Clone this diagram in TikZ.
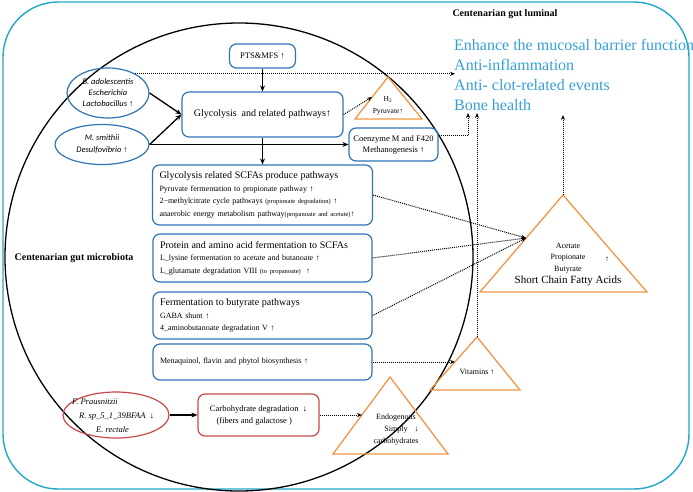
\documentclass[tikz,border=0pt]{standalone}
\usepackage{fontspec}
\setmainfont{Liberation Serif}
\newfontfamily\calfont{Carlito}
\usetikzlibrary{shapes.geometric,arrows.meta}

\definecolor{lumcyan}{RGB}{31,168,200}
\definecolor{benblue}{RGB}{52,160,214}
\definecolor{boxblue}{RGB}{46,117,182}
\definecolor{boxred}{RGB}{200,72,72}
\definecolor{triorange}{RGB}{240,150,70}

\begin{document}
\begin{tikzpicture}[x=1pt,y=-1pt,
    caja/.style={draw=boxblue, line width=1.2pt, rounded corners=7pt, inner sep=0pt},
    cajaroja/.style={draw=boxred, line width=1.2pt, rounded corners=7pt, inner sep=0pt},
    elipse/.style={ellipse, line width=1.2pt, inner sep=0pt},
    tri/.style={draw=triorange, line width=1.3pt, line join=miter},
    flecha/.style={-{Stealth[length=6pt,width=5pt]}, line width=1.3pt},
    punteada/.style={-{Stealth[length=5pt,width=4pt]}, line width=1pt, densely dotted},
    chico/.style={font=\fontsize{8}{12.5}\selectfont},
    beneficio/.style={anchor=base west, inner sep=0pt, text=benblue, font=\fontsize{16}{18}\selectfont},
    titulo/.style={font=\bfseries\fontsize{10}{12}\selectfont},
  ]

    \useasboundingbox (0,0) rectangle (693,491);

    % lumen
    \draw[lumcyan, line width=1.4pt, rounded corners=55pt] (3,2) rectangle (689,489);

    % microbiota
    \draw[line width=1.3pt] (239,257) circle (234pt);

    % titulos
    \node[titulo] (lumTitle) at (505,14) {Centenarian gut luminal};
    \node[titulo] (micTitle) at (74,258) {Centenarian gut microbiota};

    % beneficios
    \node[beneficio] (ben1) at (454,50) {Enhance the mucosal barrier function};
    \node[beneficio] (ben2) at (454,70) {Anti-inflammation};
    \node[beneficio] (ben3) at (454,90) {Anti- clot-related events};
    \node[beneficio] (ben4) at (454,110) {Bone health};
    \coordinate (inflam) at (455,75);
    \coordinate (boneA) at (468,113);
    \coordinate (boneB) at (477,113);
    \coordinate (healthC) at (563,115);

    % bacterias
    \node[elipse, draw=boxblue, minimum width=82, minimum height=50] (bifido) at (108,93) {};
    \node[align=center, font=\calfont\itshape\fontsize{8.5}{11}\selectfont] (bifidoTxt) at (bifido) {B. adolescentis\\Escherichia\\Lactobacillus {\rmfamily\upshape ↑}};
    \node[elipse, draw=boxblue, minimum width=94, minimum height=40] (smithii) at (102,144.5) {};
    \node[align=center, font=\calfont\itshape\fontsize{8.5}{12}\selectfont] (smithiiTxt) at (smithii) {M. smithii\\Desulfovibrio {\rmfamily\upshape ↑}};
    \node[elipse, draw=boxred, minimum width=106, minimum height=46] (faecali) at (116,415) {};
    \node[anchor=west, align=left, inner sep=0pt, font=\itshape\fontsize{8.5}{14}\selectfont] (faecaliTxt) at (72,416) {F. Prausnitzii\\\hspace*{7pt}R. sp\_5\_1\_39BFAA\ \ {\upshape ↓}\\\hspace*{24pt}E. rectale};

    % cajas de rutas
    \node[caja, minimum width=66, minimum height=24, font=\fontsize{8.5}{10}\selectfont] (pts) at (262.5,56) {PTS\&MFS ↑};
    \node[caja, minimum width=161, minimum height=45, font=\fontsize{10}{12}\selectfont] (glyco) at (262.5,114.5) {Glycolysis\ \ and related pathways↑};
    \node[caja, minimum width=89, minimum height=33, align=center, font=\fontsize{8.5}{11}\selectfont] (coenz) at (393.5,144.5) {Coenzyme M and F420\\Methanogenesis ↑};
    \node[caja, chico, minimum width=220, minimum height=60, text width=206, align=left] (scfa) at (262.5,195) {{\fontsize{10}{12}\selectfont Glycolysis related SCFAs produce pathways}\\Pyruvate fermentation to propionate pathway ↑\\2−methylcitrate cycle pathways {\fontsize{6.5}{8}\selectfont (propionate degradation)} ↑\\anaerobic energy metabolism pathway{\fontsize{6.5}{8}\selectfont(propanoate and acetate)}↑};
    \node[caja, chico, minimum width=219, minimum height=48, text width=205, align=left] (prot) at (262.5,258) {{\fontsize{10}{12}\selectfont Protein and amino acid fermentation to SCFAs}\\L\_lysine fermentation to acetate and butanoate ↑\\L\_glutamate degradation VIII {\fontsize{6.5}{8}\selectfont (to propanoate)}\ \ ↑};
    \node[caja, chico, minimum width=219, minimum height=47, text width=205, align=left] (ferm) at (262.5,315.5) {{\fontsize{10}{12}\selectfont Fermentation to butyrate pathways}\\GABA shunt ↑\\4\_aminobutanoate degradation V ↑};
    \node[caja, chico, minimum width=219, minimum height=36, text width=205, align=left] (menaq) at (262.5,362) {Menaquinol, flavin and phytol biosynthesis ↑};
    \node[cajaroja, minimum width=121, minimum height=42, align=center, font=\fontsize{8.5}{12}\selectfont] (carb) at (258.5,415) {Carbohydrate degradation\ \ ↓\\(fibers and galactose )\hphantom{\ \ ↓}};

    % triangulos
    \draw[tri] (388,77) coordinate (h2Top) -- (355,119) -- (422,119) -- cycle;
    \draw[tri] (563,195) coordinate (scfaTop) -- (480,292) -- (647,292) -- cycle;
    \draw[tri] (477,337) coordinate (vitTop) -- (430,390) -- (520,390) -- cycle;
    \draw[tri] (390,377) coordinate (endoTop) -- (333,454) -- (448,454) -- cycle;
    \coordinate (h2In) at (372,97);
    \coordinate (scfaIn) at (526,238);
    \coordinate (vitIn) at (455,362);
    \coordinate (endoIn) at (362,415);

    % etiquetas de triangulos
    \node[font=\fontsize{7.5}{9}\selectfont] (h2) at (388,100) {H\textsubscript{2}};
    \node[font=\fontsize{7.5}{9}\selectfont] (pyr) at (388,112) {Pyruvate↑};
    \node[align=center, font=\fontsize{8}{11.5}\selectfont] (acids) at (568,258) {Acetate\\Propionate\\Butyrate};
    \node[font=\fontsize{8}{10}\selectfont] (acidsUp) at (607,259) {↑};
    \node[font=\fontsize{11}{13}\selectfont] (scfaName) at (568,281) {Short Chain Fatty Acids};
    \node[chico] (vit) at (477,372) {Vitamins ↑};
    \node[align=center, font=\fontsize{8}{12}\selectfont] (endo) at (396,430) {Endogenous\\\hphantom{↓}\hspace{7pt}Simply\hspace{7pt}↓\\carbohydrates};

    % flechas
    \draw[flecha] (bifido.east) -- (glyco.west);
    \draw[flecha] (smithii.east) -- (glyco.west);
    \draw[flecha] (smithii.east) -- (coenz.west);
    \draw[flecha] (pts) -- (glyco);
    \draw[flecha] (glyco) -- (scfa);
    \draw[flecha] (faecali.east) -- (carb.west);

    % flechas punteadas
    \draw[punteada] (bifido.35) -- (bifido.35 -| inflam);
    \draw[punteada] (glyco.east) -- (h2In);
    \draw[punteada] ([yshift=9pt]coenz.east) -| (boneA);
    \draw[punteada] (vitTop) -- (boneB);
    \draw[punteada] (scfaTop) -- (healthC);
    \draw[punteada] (scfa.east) -- (scfaIn);
    \draw[punteada] (prot.east) -- (scfaIn);
    \draw[punteada] (ferm.east) -- (scfaIn);
    \draw[punteada] (menaq.east) -- (vitIn);
    \draw[punteada] (carb.east) -- (endoIn);

\end{tikzpicture}
\end{document}
